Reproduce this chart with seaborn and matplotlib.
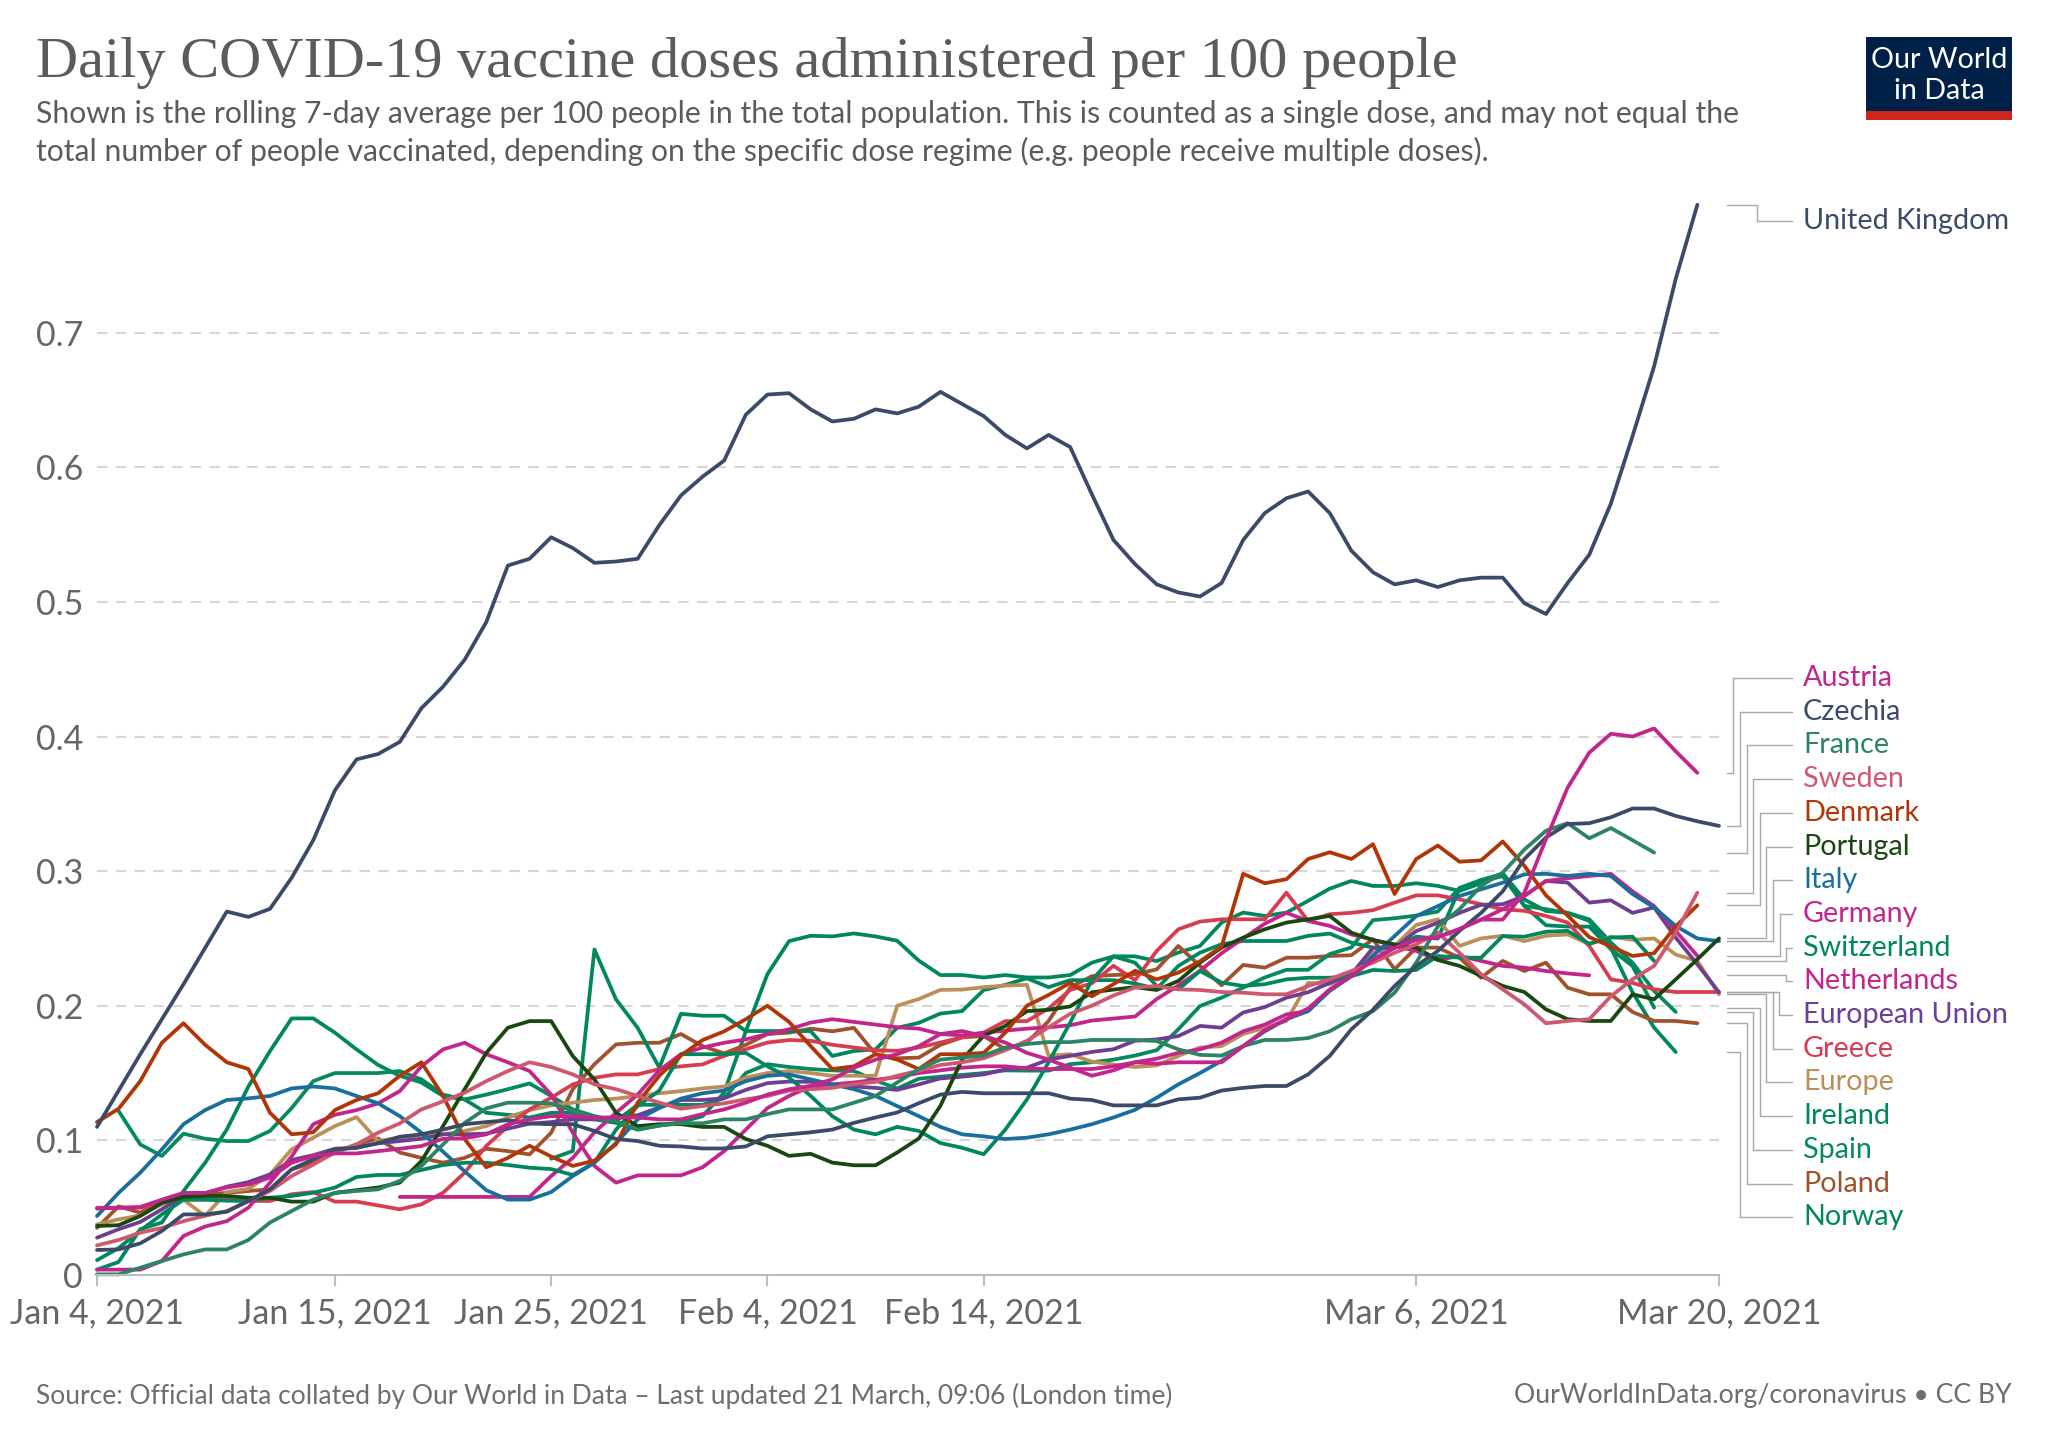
import pandas as pd
import matplotlib
matplotlib.use("Agg")
import matplotlib.pyplot as plt
import matplotlib.patches as patches
from matplotlib.lines import Line2D
from matplotlib.transforms import blended_transform_factory
import seaborn as sns

# values, one per day from Jan 4 2021
uk = [.11,.137,.164,.19,.216,.243,.27,.266,.272,.295,.323,.36,.383,.387,.396,.421,.437,.457,.485,.527,.532,.548,.54,.529,.53,.532,.557,.579,.593,.605,.639,.654,.655,.643,.634,.636,.643,.64,.645,.656,.647,.638,.624,.614,.624,.615,.58,.546,.528,.513,.507,.504,.514,.546,.566,.577,.582,.566,.538,.522,.513,.516,.511,.516,.518,.518,.499,.491,.514,.535,.573,.623,.675,.74,.795]
austria = [.0493,.05,.0505,.056,.061,.061,.065,.0673,.0723,.0834,.0884,.0903,.0903,.092,.0938,.0958,.1012,.1015,.1045,.112,.1156,.118,.118,.117,.117,.117,.1156,.1156,.1195,.123,.128,.134,.138,.1405,.1453,.154,.16,.164,.17,.179,.1812,.1775,.1727,.165,.16,.154,.148,.152,.158,.157,.158,.158,.158,.17,.182,.19,.198,.212,.222,.234,.243,.249,.251,.257,.264,.264,.284,.3237,.362,.388,.402,.4,.406,.389,.373]
czechia = [.0186,.019,.0235,.0327,.045,.045,.047,.055,.0636,.0785,.086,.0933,.0945,.098,.1027,.1045,.108,.112,.1136,.115,.1126,.112,.112,.107,.101,.0995,.096,.0955,.094,.094,.0955,.103,.1045,.106,.108,.113,.117,.1207,.1276,.134,.136,.135,.135,.135,.135,.131,.13,.126,.126,.126,.1305,.1317,.137,.139,.1404,.1404,.149,.1627,.1825,.197,.2147,.2295,.2407,.2556,.269,.285,.309,.325,.335,.3356,.34,.3465,.3465,.341,.337,.3336]
france = [.0005,.0005,.0054,.0104,.0153,.019,.019,.026,.039,.0475,.056,.061,.0624,.0636,.07,.081,.097,.113,.1238,.128,.128,.1275,.122,.117,.1144,.108,.111,.1127,.1127,.1156,.1156,.1195,.123,.123,.123,.128,.133,.143,.153,.16,.1615,.163,.169,.1716,.173,.173,.1746,.1746,.1746,.1738,.1676,.1635,.163,.17,.1746,.1746,.176,.181,.19,.196,.2097,.232,.259,.2717,.289,.299,.316,.33,.3356,.3244,.332,.323,.3138]
sweden = [.022,.026,.0314,.035,.04,.044,.0475,.055,.0624,.0735,.082,.091,.097,.1057,.1126,.123,.129,.1354,.144,.1515,.158,.1545,.149,.1416,.138,.133,.128,.1235,.1255,.1275,.1305,.133,.137,.138,.139,.1418,.1435,.148,.1517,.156,.158,.161,.167,.174,.184,.194,.2,.2076,.2136,.2146,.2122,.2117,.2102,.2097,.2085,.2085,.2147,.2197,.2258,.232,.2394,.2456,.2543,.2394,.2234,.2122,.201,.187,.1887,.19,.207,.2196,.2296,.2543,.284]
denmark = [.1136,.1235,.144,.1725,.187,.171,.158,.153,.1205,.1045,.106,.1225,.13,.135,.148,.158,.133,.101,.08,.087,.096,.088,.081,.085,.097,.128,.148,.163,.1745,.181,.19,.2,.188,.17,.153,.155,.164,.16,.153,.164,.164,.165,.18,.2,.208,.217,.207,.216,.226,.2196,.2246,.233,.244,.298,.291,.294,.309,.314,.309,.32,.283,.309,.319,.307,.308,.322,.304,.282,.267,.251,.244,.237,.239,.259,.2746]
portugal = [.0364,.037,.0438,.0537,.058,.0587,.0587,.0574,.0574,.0545,.0545,.061,.063,.065,.0686,.0847,.1106,.138,.165,.1837,.1886,.1886,.1626,.1453,.1205,.1106,.112,.112,.11,.11,.101,.096,.0885,.09,.0835,.0815,.0815,.091,.1014,.1257,.16,.1777,.185,.196,.197,.1995,.21,.212,.2138,.2117,.2184,.232,.2432,.2506,.2568,.2618,.2642,.2667,.2543,.2488,.2456,.2432,.234,.2296,.2222,.2147,.2102,.1973,.19,.1887,.1887,.2085,.2048,.2196,.2345,.25]
italy = [.0438,.061,.076,.0933,.112,.1225,.13,.1312,.133,.1386,.14,.1386,.133,.1275,.118,.1057,.0916,.077,.063,.056,.056,.0616,.0735,.0834,.098,.1156,.124,.131,.135,.137,.144,.148,.149,.1453,.1416,.138,.133,.1255,.118,.11,.1045,.103,.101,.102,.1045,.108,.112,.117,.1227,.1317,.1416,.15,.159,.17,.181,.19,.196,.211,.222,.237,.2518,.2666,.274,.2815,.2865,.2914,.2976,.298,.2964,.298,.2964,.283,.273,.2592,.25,.248]
germany = [.004,.004,.004,.0104,.029,.036,.04,.05,.0686,.088,.112,.119,.1225,.1275,.1366,.155,.1676,.1725,.164,.158,.1515,.134,.1057,.081,.0686,.074,.074,.074,.08,.092,.108,.124,.133,.14,.1416,.143,.145,.147,.15,.152,.154,.155,.155,.1535,.153,.153,.153,.155,.158,.1607,.165,.1676,.1726,.181,.186,.1936,.196,.212,.222,.2345,.243,.249,.251,.257,.264,.2717,.2816,.2927,.2947,.2964,.298,.285,.274,.2556,.237]
switzerland = [.011,.02,.033,.045,.056,.056,.0552,.055,.0574,.0587,.0611,.0649,.0728,.0743,.0743,.078,.0817,.0834,.0834,.0817,.0797,.0787,.0743,.0834,.108,.1255,.137,.164,.164,.164,.165,.155,.1467,.133,.118,.108,.1045,.11,.107,.098,.0945,.0897,.108,.1304,.158,.1875,.219,.2367,.232,.2147,.2122,.2258,.2172,.2147,.216,.2196,.2208,.2208,.222,.2266,.2258,.2266,.237,.2357,.2357,.2518,.2513,.255,.2556,.2461,.2506,.2513,.2333]
netherlands = [.058,.058,.058,.058,.058,.058,.058,.0735,.087,.106,.1205,.134,.152,.164,.169,.1725,.175,.179,.1825,.1875,.19,.188,.186,.184,.183,.179,.178,.18,.1815,.183,.184,.1855,.189,.1905,.192,.205,.215,.226,.239,.25,.261,.269,.263,.2593,.253,.249,.2444,.2407,.234,.237,.2333,.2296,.2283,.2258,.224,.2226]
eu = [.0277,.034,.0394,.0488,.0587,.0606,.0656,.069,.0747,.0854,.089,.0938,.0946,.0978,.0995,.1012,.1045,.1045,.105,.1087,.1124,.1136,.1156,.1156,.117,.1187,.1244,.13,.13,.1313,.1375,.1425,.1437,.1435,.1416,.14,.139,.1375,.1416,.146,.1473,.149,.1527,.154,.16,.1628,.1657,.1677,.174,.175,.1775,.185,.1837,.195,.199,.206,.21,.217,.2234,.243,.243,.2555,.2617,.269,.275,.2754,.2816,.2927,.2915,.2766,.2783,.269,.273,.2506,.2308,.21]
greece = [.05,.05,.05,.0537,.056,.056,.056,.055,.055,.06,.0616,.0545,.0545,.0517,.0488,.0525,.0611,.076,.0958,.1106,.123,.1317,.1416,.1465,.149,.149,.153,.155,.1564,.1628,.1677,.1727,.1745,.174,.171,.169,.167,.1665,.169,.1727,.1765,.18,.1886,.1886,.198,.2117,.2167,.2297,.219,.2407,.2568,.2625,.2642,.2642,.2642,.284,.263,.268,.269,.271,.2766,.282,.282,.279,.2754,.2717,.2705,.2667,.2618,.2444,.2196,.217,.2122,.2102,.2102,.2102]
europe = [.0376,.0413,.0443,.0525,.056,.0438,.0616,.064,.0747,.0933,.102,.1106,.1173,.0995,.102,.1037,.1045,.107,.1106,.117,.1225,.126,.128,.13,.131,.133,.135,.1366,.1386,.14,.1466,.15,.1515,.15,.148,.148,.148,.2,.205,.2118,.212,.2138,.215,.2155,.1628,.164,.1585,.1564,.1545,.1557,.1627,.169,.17,.179,.1837,.1887,.217,.216,.222,.2395,.2444,.26,.2642,.2444,.25,.252,.248,.252,.253,.2457,.2513,.249,.25,.238,.2333,.2085]
ireland = [.0864,.0921,.2418,.2047,.1836,.154,.194,.1926,.1926,.1812,.1812,.1812,.1812,.1627,.1664,.1676,.1836,.1873,.1942,.196,.2117,.2155,.2204,.2138,.219,.219,.219,.2165,.2125,.2296,.2394,.2457,.2481,.2481,.2481,.2519,.2536,.2469,.2432,.2432,.2513,.2499,.287,.292,.2964,.2741,.2598,.2588,.2588,.242,.2296,.1986]
spain = [.1218,.097,.0884,.105,.1012,.0995,.0995,.107,.124,.144,.15,.15,.15,.1515,.1453,.134,.1304,.134,.138,.1423,.133,.123,.118,.1144,.1264,.1264,.1264,.1264,.1313,.15,.1566,.1545,.153,.152,.1515,.1445,.1385,.1458,.1473,.1486,.15,.152,.1518,.1518,.1566,.158,.16,.163,.167,.1825,.1998,.206,.2135,.221,.2267,.2267,.2384,.2433,.2636,.265,.267,.27,.2875,.2935,.298,.2742,.2717,.269,.2642,.247,.232,.211,.1954]
poland = [.035,.051,.0463,.055,.0587,.06,.061,.0624,.0636,.0785,.0834,.091,.097,.1014,.091,.087,.0834,.087,.0938,.092,.0896,.1057,.138,.1565,.1713,.1725,.1725,.179,.17,.1646,.171,.179,.18,.183,.181,.1836,.164,.161,.1615,.171,.1765,.1775,.1677,.1727,.1886,.2136,.222,.2228,.2235,.227,.2444,.2296,.2152,.2303,.2283,.2357,.2357,.237,.2375,.2494,.2271,.2432,.2432,.2357,.2208,.2333,.2258,.232,.2134,.2085,.2085,.1954,.1887,.1887,.187]
norway = [.004,.0097,.034,.039,.0624,.0834,.108,.14,.1663,.1906,.1906,.18,.1676,.156,.148,.143,.133,.1304,.1205,.119,.117,.1205,.1205,.1156,.113,.108,.111,.1135,.118,.1355,.181,.2235,.248,.252,.2515,.2537,.2515,.2483,.2335,.2228,.2228,.221,.2228,.221,.221,.2228,.232,.2367,.2367,.2332,.2395,.2444,.2618,.2692,.2667,.2692,.2779,.287,.2927,.289,.289,.291,.289,.2853,.291,.2984,.279,.2704,.269,.263,.243,.21,.1837,.1656]

names = ["United Kingdom","Austria","Czechia","France","Sweden","Denmark","Portugal","Italy","Germany","Switzerland",
         "Netherlands","European Union","Greece","Europe","Ireland","Spain","Poland","Norway"]
values = [uk,austria,czechia,france,sweden,denmark,portugal,italy,germany,switzerland,
          netherlands,eu,greece,europe,ireland,spain,poland,norway]
first_day = {"Netherlands":14, "Ireland":21, "Spain":1}
colors = ["#3c4a69","#c2258c","#3c4a69","#2c8465","#cf5870","#b13507","#18470f","#1a6e9b","#c2258c","#00875e",
          "#c2258c","#6d3e91","#d73c50","#bc8e5a","#00875e","#058a5f","#a0522d","#00875e"]

xtick_days = [0, 11, 21, 31, 41, 61, 75]
xtick_labels = ["Jan 4, 2021","Jan 15, 2021","Jan 25, 2021","Feb 4, 2021","Feb 14, 2021","Mar 6, 2021","Mar 20, 2021"]
ytick_vals = [0, .1, .2, .3, .4, .5, .6, .7]
ytick_labels = ["0","0.1","0.2","0.3","0.4","0.5","0.6","0.7"]

rows = []
for name, vals in zip(names, values):
    start = first_day.get(name, 0)
    for i, v in enumerate(vals):
        rows.append((name, start + i, v))
df = pd.DataFrame(rows, columns=["entity", "day", "doses"])
df["date"] = pd.Timestamp("2021-01-04") + pd.to_timedelta(df["day"], unit="D")
days = pd.date_range("2021-01-04", periods=76)

sns.set_style("white")
plt.rcParams["font.family"] = ["Lato", "DejaVu Sans"]
W, H = 2048, 1446
GREY = "#5b5b5b"

def fx(x):
    return x / W

def fy(y):
    return 1 - y / H

fig = plt.figure(figsize=(W / 100, H / 100), dpi=100)
ax = fig.add_axes([fx(97), fy(1275), (1719 - 97) / W, (1275 - 198) / H])

for y in ytick_vals[1:]:
    ax.axhline(y, color="#d6d6d6", lw=1.5, dashes=(5, 4), zorder=0)

sns.lineplot(data=df, x="date", y="doses", hue="entity", hue_order=names[::-1], palette=dict(zip(names, colors)),
             legend=False, estimator=None, lw=2.7, ax=ax, clip_on=False)

ax.set_xlim(days[0], days[75])
ax.set_ylim(0, .8)
ax.set_xlabel("")
ax.set_ylabel("")
for s in ["top", "left", "right"]:
    ax.spines[s].set_visible(False)
ax.spines["bottom"].set_color("#bdbdbd")
ax.spines["bottom"].set_linewidth(1.5)
ax.set_xticks([days[d] for d in xtick_days])
ax.set_xticklabels(xtick_labels)
ax.set_yticks(ytick_vals)
ax.set_yticklabels(ytick_labels)
ax.tick_params(axis="x", length=8, width=1.5, color="#bdbdbd", labelsize=24.5, labelcolor="#666666", pad=8, bottom=True)
ax.tick_params(axis="y", length=0, labelsize=24.5, labelcolor="#666666", pad=10)

# right hand labels with their connector lines
label_names = ["Austria","Czechia","France","Sweden","Denmark","Portugal","Italy","Germany","Switzerland",
               "Netherlands","European Union","Greece","Europe","Ireland","Spain","Poland","Norway"]
label_mid = [1733,1740,1747,1753,1760,1766,1773,1780,1786,1786,1779,1773,1766,1760,1753,1747,1740]
col = dict(zip(names, colors))
end_val = dict(zip(names, [v[-1] for v in values]))
trans = blended_transform_factory(fig.transFigure, ax.transData)
for i, name in enumerate(label_names):
    ly = 678 + i * 33.7
    fig.text(fx(1803), fy(ly), name, color=col[name], fontsize=20.7, va="center", ha="left")
    m = label_mid[i]
    yv = end_val[name]
    fig.add_artist(Line2D([fx(1727), fx(m)], [yv, yv], transform=trans, color="#a8a8a8", lw=1))
    ytop = (ax.transData.transform((0, yv))[1]) / H
    fig.add_artist(Line2D([fx(m), fx(m)], [ytop, fy(ly)], color="#a8a8a8", lw=1))
    fig.add_artist(Line2D([fx(m), fx(1792)], [fy(ly), fy(ly)], color="#a8a8a8", lw=1))

# UK label on top
fig.text(fx(1803), fy(221), "United Kingdom", color=col["United Kingdom"], fontsize=20.7, va="center", ha="left")
fig.add_artist(Line2D([fx(1727), fx(1757), fx(1757), fx(1792)], [fy(205), fy(205), fy(221), fy(221)], color="#a8a8a8", lw=1))

fig.text(fx(36.5), fy(63), "Daily COVID-19 vaccine doses administered per 100 people", family="Liberation Serif",
         fontsize=42, color=GREY, va="center", ha="left")
fig.text(fx(36.5), fy(114), "Shown is the rolling 7-day average per 100 people in the total population. This is counted as a single dose, and may not equal the",
         fontsize=21.7, color=GREY, va="center", ha="left")
fig.text(fx(36.5), fy(151), "total number of people vaccinated, depending on the specific dose regime (e.g. people receive multiple doses).",
         fontsize=21.7, color=GREY, va="center", ha="left")
fig.text(fx(36.5), fy(1396), "Source: Official data collated by Our World in Data \u2013 Last updated 21 March, 09:06 (London time)",
         fontsize=19, color="#6e6e6e", va="center", ha="left")
fig.text(fx(2012), fy(1396), "OurWorldInData.org/coronavirus \u2022 CC BY", fontsize=19.2, color="#6e6e6e", va="center", ha="right")

# logo
fig.add_artist(patches.Rectangle((fx(1866), fy(120)), 146 / W, 83 / H, transform=fig.transFigure, color="#002147", lw=0))
fig.add_artist(patches.Rectangle((fx(1866), fy(120)), 146 / W, 9 / H, transform=fig.transFigure, color="#ce261e", lw=0))
fig.text(fx(1939), fy(60), "Our World", color="white", fontsize=20.6, ha="center", va="center")
fig.text(fx(1939), fy(91), "in Data", color="white", fontsize=20.6, ha="center", va="center")

fig.savefig("out.png", dpi=100)
